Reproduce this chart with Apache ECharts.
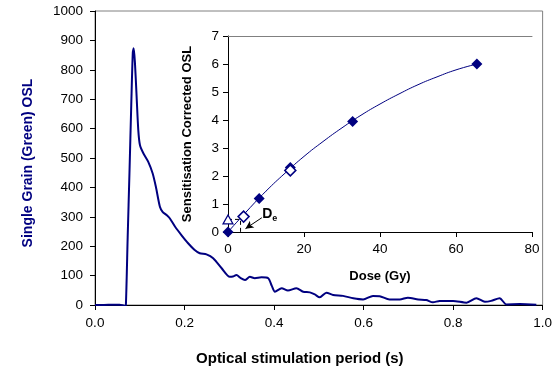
<!DOCTYPE html>
<html><head><meta charset="utf-8">
<script src="https://cdn.jsdelivr.net/npm/echarts@6/dist/echarts.min.js"></script>
<style>html,body{margin:0;padding:0;background:#fff}#c{width:555px;height:371px}</style>
</head><body><div id="c"></div>
<script>
// Main OSL decay curve
var mainTime = [0,0.02,0.04,0.055,0.064,0.067,0.069,0.073,0.077,0.081,0.0845,0.0865,0.0893,0.093,0.0967,0.1004,0.108,0.119,0.1287,0.136,0.145,0.151,0.16,0.167,0.179,0.193,0.208,0.222,0.234,0.249,0.264,0.283,0.301,0.308,0.316,0.325,0.335,0.346,0.357,0.372,0.387,0.395,0.402,0.417,0.431,0.45,0.465,0.48,0.491,0.502,0.517,0.532,0.554,0.577,0.599,0.621,0.636,0.658,0.681,0.699,0.722,0.74,0.755,0.77,0.8,0.83,0.852,0.871,0.885,0.904,0.919,0.949,0.986];
var mainOSL = [0,0,1,1,-2,-3,0,230,450,680,860,873,822,708,595,544,516,487,448,402,334,317,306,295,266,238,210,188,176,172,159,125,96,97,102,92,85,96,91,94,91,65,45,57,49,57,45,43,36,26,42,34,31,23,19,31,30,19,19,25,19,17,9,14,14,8,23,11,14,23,2,3,1];
// Inset dose-response
var regenDose = [0,8.2,16.4,32.8,65.5];
var regenOSL = [0,1.2,2.3,3.95,6.0];
var recycleDose = [4.1,16.4];
var recycleOSL = [0.55,2.2];
var naturalDose = [0];
var naturalOSL = [0.45];
var fitDose = [0,5,10,15,20,25,30,35,40,45,50,55,60,65.5];
var fitOSL = [0,0.75,1.46,2.1,2.7,3.23,3.72,4.17,4.57,4.93,5.26,5.54,5.79,6.0];
var deDose = 3.3;

var navy = '#000080';
var ff = 'Liberation Sans, Arial, sans-serif';
function zip(a,b){return a.map(function(v,i){return [v,b[i]];});}

var chart = echarts.init(document.getElementById('c'), null, {renderer:'canvas'});
chart.setOption({
  animation:false,
  backgroundColor:'#fff',
  textStyle:{fontFamily:ff},
  grid:[
    {left:95,right:12,top:11,bottom:66,show:true,borderColor:'#808080',borderWidth:1},
    {left:228,right:23,top:36,bottom:139}
  ],
  xAxis:[
    {gridIndex:0,type:'value',min:0,max:1,interval:0.2,
     name:'Optical stimulation period (s)',nameLocation:'middle',nameGap:46,
     nameTextStyle:{fontFamily:ff,fontSize:15,fontWeight:'bold',color:'#000',padding:[0,38,0,0]},
     axisLine:{lineStyle:{color:'#000',width:1}},
     axisTick:{show:true,length:5,lineStyle:{color:'#000'}},
     axisLabel:{fontFamily:ff,fontSize:13.5,color:'#000',margin:11,formatter:function(v){return v.toFixed(1);}},
     splitLine:{show:false}},
    {gridIndex:1,type:'value',min:0,max:80,interval:20,
     name:'Dose (Gy)',nameLocation:'middle',nameGap:38,
     nameTextStyle:{fontFamily:ff,fontSize:13,fontWeight:'bold',color:'#000'},
     axisLine:{lineStyle:{color:'#000',width:1}},
     axisTick:{show:true,length:5,lineStyle:{color:'#000'}},
     axisLabel:{fontFamily:ff,fontSize:13.5,color:'#000',margin:10},
     splitLine:{show:false}},
    {gridIndex:1,type:'value',min:0,max:80,position:'top',
     axisLine:{show:true,lineStyle:{color:'#808080',width:1}},
     axisTick:{show:false},axisLabel:{show:false},splitLine:{show:false}}
  ],
  yAxis:[
    {gridIndex:0,type:'value',min:0,max:1000,interval:100,
     name:'Single Grain (Green) OSL',nameLocation:'middle',nameGap:60,nameRotate:90,
     nameTextStyle:{fontFamily:ff,fontSize:14,fontWeight:'bold',color:navy,padding:[0,10,0,0]},
     axisLine:{show:true,lineStyle:{color:'#000',width:1}},
     axisTick:{show:true,length:5,lineStyle:{color:'#000'}},
     axisLabel:{fontFamily:ff,fontSize:13.5,color:'#000',margin:12,formatter:function(v){return String(v);}},
     splitLine:{show:false}},
    {gridIndex:1,type:'value',min:0,max:7,interval:1,
     name:'Sensitisation Corrected OSL',nameLocation:'middle',nameGap:34,nameRotate:90,
     nameTextStyle:{fontFamily:ff,fontSize:13,fontWeight:'bold',color:'#000'},
     axisLine:{show:true,lineStyle:{color:'#000',width:1}},
     axisTick:{show:true,length:5,lineStyle:{color:'#000'}},
     axisLabel:{fontFamily:ff,fontSize:13.5,color:'#000',margin:9},
     splitLine:{show:false}}
  ],
  series:[
    {type:'line',xAxisIndex:0,yAxisIndex:0,data:zip(mainTime,mainOSL),
     showSymbol:false,smooth:0.25,lineStyle:{color:navy,width:2},z:2},
    {type:'line',xAxisIndex:1,yAxisIndex:1,data:zip(fitDose,fitOSL),
     showSymbol:false,smooth:true,lineStyle:{color:navy,width:1},z:3},
    {type:'line',xAxisIndex:1,yAxisIndex:1,
     data:[[naturalDose[0],naturalOSL[0]],[deDose,naturalOSL[0]],[deDose,0]],
     showSymbol:false,lineStyle:{color:'#000',width:1,type:[4,3]},z:3,
     markLine:{silent:true,symbol:['none','arrow'],symbolSize:[6,8],
       lineStyle:{color:'#000',width:1,type:'solid'},label:{show:false},
       data:[[{coord:[8.9,0.51]},{coord:[4.6,0.12]}]]},
     markPoint:{silent:true,symbol:'circle',symbolSize:0,
       label:{show:true,position:'inside',formatter:'{d|D}{e|e}',
         rich:{d:{fontFamily:ff,fontSize:14,fontWeight:'bold',color:'#000'},
               e:{fontFamily:ff,fontSize:9,fontWeight:'bold',color:'#000',padding:[8,0,0,0]}}},
       data:[{coord:[11.0,0.64]}]}},
    {type:'scatter',xAxisIndex:1,yAxisIndex:1,data:zip(regenDose,regenOSL),
     symbol:'diamond',symbolSize:11,itemStyle:{color:navy,opacity:1},z:5},
    {type:'scatter',xAxisIndex:1,yAxisIndex:1,data:zip(recycleDose,recycleOSL),
     symbol:'diamond',symbolSize:11,itemStyle:{color:'#fff',borderColor:navy,borderWidth:1.5,opacity:1},z:6},
    {type:'scatter',xAxisIndex:1,yAxisIndex:1,data:zip(naturalDose,naturalOSL),
     symbol:'triangle',symbolSize:[10,9],itemStyle:{color:'#fff',borderColor:navy,borderWidth:1.2,opacity:1},z:6}
  ]
});
</script></body></html>
